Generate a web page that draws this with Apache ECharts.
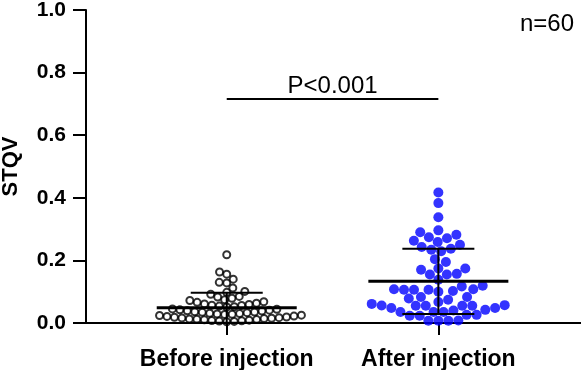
<!DOCTYPE html>
<html><head><meta charset="utf-8">
<script src="https://cdn.jsdelivr.net/npm/echarts@6/dist/echarts.min.js"></script>
<style>html,body{margin:0;padding:0;background:#fff}#c{width:581px;height:370px}</style>
</head><body><div id="c"></div>
<script>
const categories = ['Before injection', 'After injection'];
const beforeValues = [0.218, 0.163, 0.156, 0.140, 0.130, 0.128, 0.112, 0.101, 0.098, 0.092,
  0.085, 0.083, 0.079, 0.074, 0.072,
  0.068, 0.066, 0.063, 0.061, 0.059, 0.057, 0.056, 0.054, 0.052, 0.051,
  0.045, 0.044, 0.042, 0.041, 0.039, 0.038, 0.036, 0.035, 0.034, 0.033,
  0.031, 0.030, 0.029, 0.028, 0.027, 0.025, 0.024, 0.022,
  0.021, 0.019, 0.018, 0.017, 0.016, 0.015, 0.014, 0.013, 0.012, 0.011,
  0.010, 0.009, 0.008, 0.007, 0.006, 0.005, 0.004];
const afterValues = [0.417, 0.383, 0.338, 0.296, 0.290, 0.282, 0.271, 0.274, 0.263, 0.259,
  0.250, 0.237, 0.234, 0.229, 0.243, 0.204, 0.195, 0.174, 0.174, 0.170,
  0.155, 0.155, 0.157, 0.138, 0.117, 0.119, 0.108, 0.102, 0.106, 0.108,
  0.100, 0.106, 0.106, 0.083, 0.083, 0.074, 0.067, 0.078, 0.040, 0.055,
  0.055, 0.023, 0.035, 0.035, 0.048, 0.035, 0.048, 0.057, 0.042, 0.056,
  0.061, 0.055, 0.055, 0.007, 0.007, 0.023, 0.007, 0.026, 0.026, 0.008];
const groupMeans = [0.049, 0.133];
const groupSDs = [0.048, 0.104];
const yTicks = [0, 0.2, 0.4, 0.6, 0.8, 1.0];
const sigLabel = 'P<0.001';
const sigLevel = 0.716;
const nLabel = 'n=60';

const FONT = '"Liberation Sans", Arial, Helvetica, sans-serif';
const X_MIN = 0.335, X_MAX = 2.674;
const chart = echarts.init(document.getElementById('c'), null, {renderer: 'canvas'});
const axisLine = {show: true, lineStyle: {color: '#000', width: 2}};

chart.setOption({
  animation: false,
  grid: {left: 86, right: 0, top: 10, bottom: 47, containLabel: false, outerBoundsMode: 'none'},
  xAxis: {
    type: 'value', min: X_MIN, max: X_MAX,
    splitLine: {show: false},
    axisLine: axisLine,
    axisTick: {show: true, customValues: [1, 2], length: 12, lineStyle: {color: '#000', width: 2}},
    axisLabel: {show: true, customValues: [1, 2], formatter: v => categories[Math.round(v) - 1] || '',
      fontFamily: FONT, fontWeight: 'bold', fontSize: 23, color: '#000', margin: 25}
  },
  yAxis: {
    type: 'value', min: 0, max: 1,
    name: 'STQV', nameLocation: 'middle', nameGap: 64, nameRotate: 90,
    nameTextStyle: {fontFamily: FONT, fontWeight: 'bold', fontSize: 22, color: '#000'},
    splitLine: {show: false},
    axisLine: axisLine,
    axisTick: {show: true, customValues: yTicks, length: 13, lineStyle: {color: '#000', width: 2}},
    axisLabel: {show: true, customValues: yTicks, formatter: v => v.toFixed(1),
      fontFamily: FONT, fontWeight: 'bold', fontSize: 21, color: '#000', margin: 20}
  }
});

const pxPerX = chart.convertToPixel({xAxisIndex: 0}, 2) - chart.convertToPixel({xAxisIndex: 0}, 1);
const pxPerY = chart.convertToPixel({yAxisIndex: 0}, 0) - chart.convertToPixel({yAxisIndex: 0}, 1);

function swarm(values, diam) {
  const order = values.map((v, i) => i).sort((a, b) => values[a] - values[b]);
  const placed = [];
  const off = new Array(values.length).fill(0);
  let flip = 1;
  order.forEach(i => {
    const y = values[i] * pxPerY;
    const cands = [0];
    placed.forEach(p => {
      const dy = Math.abs(y - p.y);
      if (dy < diam) {
        const dx = Math.sqrt(diam * diam - dy * dy);
        cands.push(p.x + dx, p.x - dx);
      }
    });
    cands.sort((a, b) => (Math.abs(a) - Math.abs(b)) || (flip * (a - b)));
    let best = 0;
    for (const c of cands) {
      let ok = true;
      for (const p of placed) {
        const dx = c - p.x, dy = y - p.y;
        if (dx * dx + dy * dy < diam * diam - 1e-6) { ok = false; break; }
      }
      if (ok) { best = c; break; }
    }
    flip = -flip;
    placed.push({x: best, y: y});
    off[i] = best;
  });
  return off;
}

const beforeOff = swarm(beforeValues, 7.5);
const afterOff = swarm(afterValues, 10);

chart.setOption({
  graphic: [{
    type: 'text', right: 7, top: 12,
    style: {text: nLabel, font: '24px ' + FONT, fill: '#000'}
  }],
  series: [
    {
      type: 'scatter', clip: false, z: 2,
      symbol: 'circle', symbolSize: 7,
      itemStyle: {color: 'transparent', borderColor: '#000', borderWidth: 2},
      data: beforeValues.map((v, i) => [1 + beforeOff[i] / pxPerX, v])
    },
    {
      type: 'scatter', clip: false, z: 2,
      symbol: 'circle', symbolSize: 10,
      itemStyle: {color: '#0000ff'},
      data: afterValues.map((v, i) => [2 + afterOff[i] / pxPerX, v])
    },
    {
      type: 'custom', z: 5, clip: false,
      data: groupMeans.map((m, i) => [i + 1, m, groupSDs[i]]),
      renderItem: function (params, api) {
        const x = api.value(0), m = api.value(1), s = api.value(2);
        const c = api.coord([x, m]);
        const t = api.coord([x, m + s]);
        const b = api.coord([x, Math.max(0, m - s)]);
        const st2 = {stroke: '#000', lineWidth: 2};
        return {type: 'group', children: [
          {type: 'line', shape: {x1: t[0], y1: t[1], x2: b[0], y2: b[1]}, style: st2},
          {type: 'line', shape: {x1: t[0] - 36, y1: t[1], x2: t[0] + 36, y2: t[1]}, style: st2},
          {type: 'line', shape: {x1: b[0] - 36, y1: b[1], x2: b[0] + 36, y2: b[1]}, style: st2},
          {type: 'line', shape: {x1: c[0] - 70, y1: c[1], x2: c[0] + 70, y2: c[1]}, style: {stroke: '#000', lineWidth: 3}}
        ]};
      }
    },
    {
      type: 'custom', z: 5, clip: false,
      data: [[1, 2, sigLevel]],
      renderItem: function (params, api) {
        const p1 = api.coord([api.value(0), api.value(2)]);
        const p2 = api.coord([api.value(1), api.value(2)]);
        return {type: 'group', children: [
          {type: 'line', shape: {x1: p1[0], y1: p1[1], x2: p2[0], y2: p2[1]}, style: {stroke: '#000', lineWidth: 2}},
          {type: 'text', style: {text: sigLabel, x: (p1[0] + p2[0]) / 2, y: p1[1] - 1,
            align: 'center', verticalAlign: 'bottom', font: '24px ' + FONT, fill: '#000'}}
        ]};
      }
    }
  ]
});
</script></body></html>
